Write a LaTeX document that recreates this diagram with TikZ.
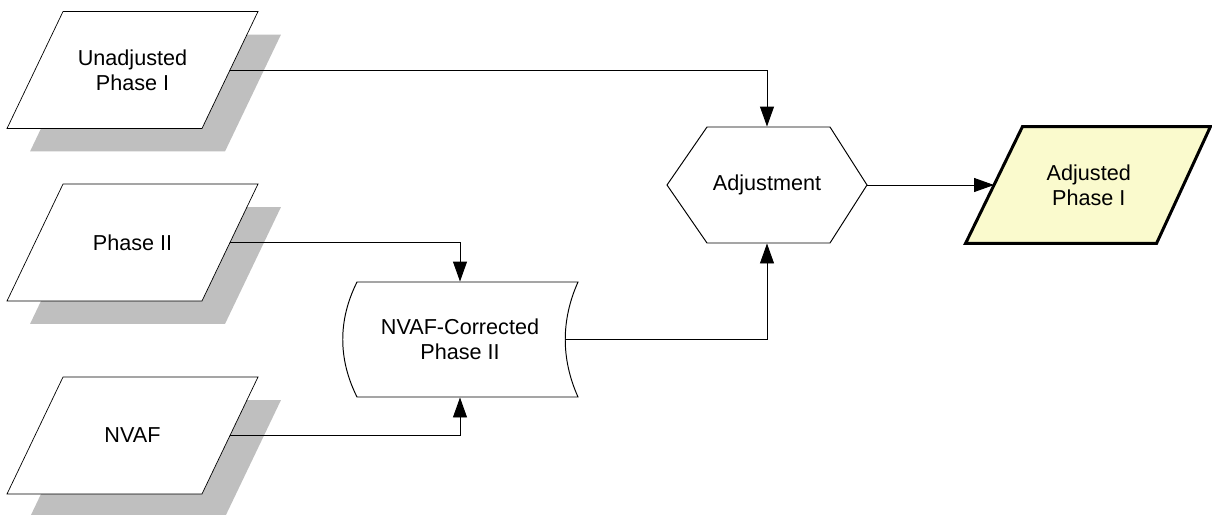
\documentclass[tikz,border=0pt]{standalone}
\usepackage{fontspec}
\setmainfont{Liberation Sans}
\usetikzlibrary{positioning,arrows.meta,calc}
\usetikzlibrary{backgrounds}
\definecolor{paleyellow}{RGB}{250,250,205}
\tikzstyle{every node} = [font=\fontsize{12.3}{14.4}\selectfont]
\tikzstyle{datain} = [minimum width=38.8mm,minimum height=23.2mm,inner sep=0pt,align=center]
\tikzstyle{link} = [line width=0.55pt,-{Triangle[length=4mm,width=2.8mm]}]

\begin{document}
\begin{tikzpicture}[x=0.2mm,y=-0.2mm,line width=0.55pt]
\useasboundingbox (0,0) rectangle (1212,514);

% inputs
\node[datain] (unadj) at (132.5,70) {Unadjusted\\Phase I};
\node[datain] (ph2) at (132.5,242.5) {Phase II};
\node[datain] (nvaf) at (132.5,435.5) {NVAF};

% stored data
\draw (357,282) -- (578,282)
  .. controls (561,320) and (561,359) .. (578,397) -- (357,397)
  .. controls (338,359) and (338,320) .. (357,282) -- cycle;
\node[minimum width=42mm,minimum height=23mm,inner sep=0pt,align=center] (ncor) at (460,339.5) {NVAF-Corrected\\Phase II};

% process
\draw (667,185) -- (707,127) -- (830,127) -- (867,185)
  -- (830,243) -- (707,243) -- cycle;
\node[minimum width=40mm,minimum height=23.2mm,inner sep=0pt] (adj) at (767,185) {Adjustment};

% output
\node[datain,minimum width=37.7mm] (adjd) at (1088.75,185) {Adjusted\\Phase I};

\begin{scope}[on background layer]
\foreach \n in {unadj,ph2,nvaf} {
  \fill[black!25] ($(\n.north east)+(51,23)$) -- ($(\n.south east)+(-5,23)$)
    -- ($(\n.south west)+(-5,23)$) -- ($(\n.north west)+(51,23)$) -- cycle;
  \draw[fill=white] ($(\n.north east)+(28,0)$) -- ($(\n.south east)+(-28,0)$)
    -- ($(\n.south west)+(-28,0)$) -- ($(\n.north west)+(28,0)$) -- cycle;
}
\draw[fill=paleyellow,line width=1.7pt] ($(adjd.north east)+(27,0)$) -- ($(adjd.south east)+(-27,0)$)
  -- ($(adjd.south west)+(-28.5,0)$) -- ($(adjd.north west)+(28.5,0)$) -- cycle;
\end{scope}

\draw[link] (unadj.east) -| (adj.north);
\draw[link] (ph2.east) -| (ncor.north);
\draw[link] (nvaf.east) -| (ncor.south);
\draw[link] (ncor.east) -| (adj.south);
\draw[link] (adj.east) -- (adjd.west);

\end{tikzpicture}
\end{document}
